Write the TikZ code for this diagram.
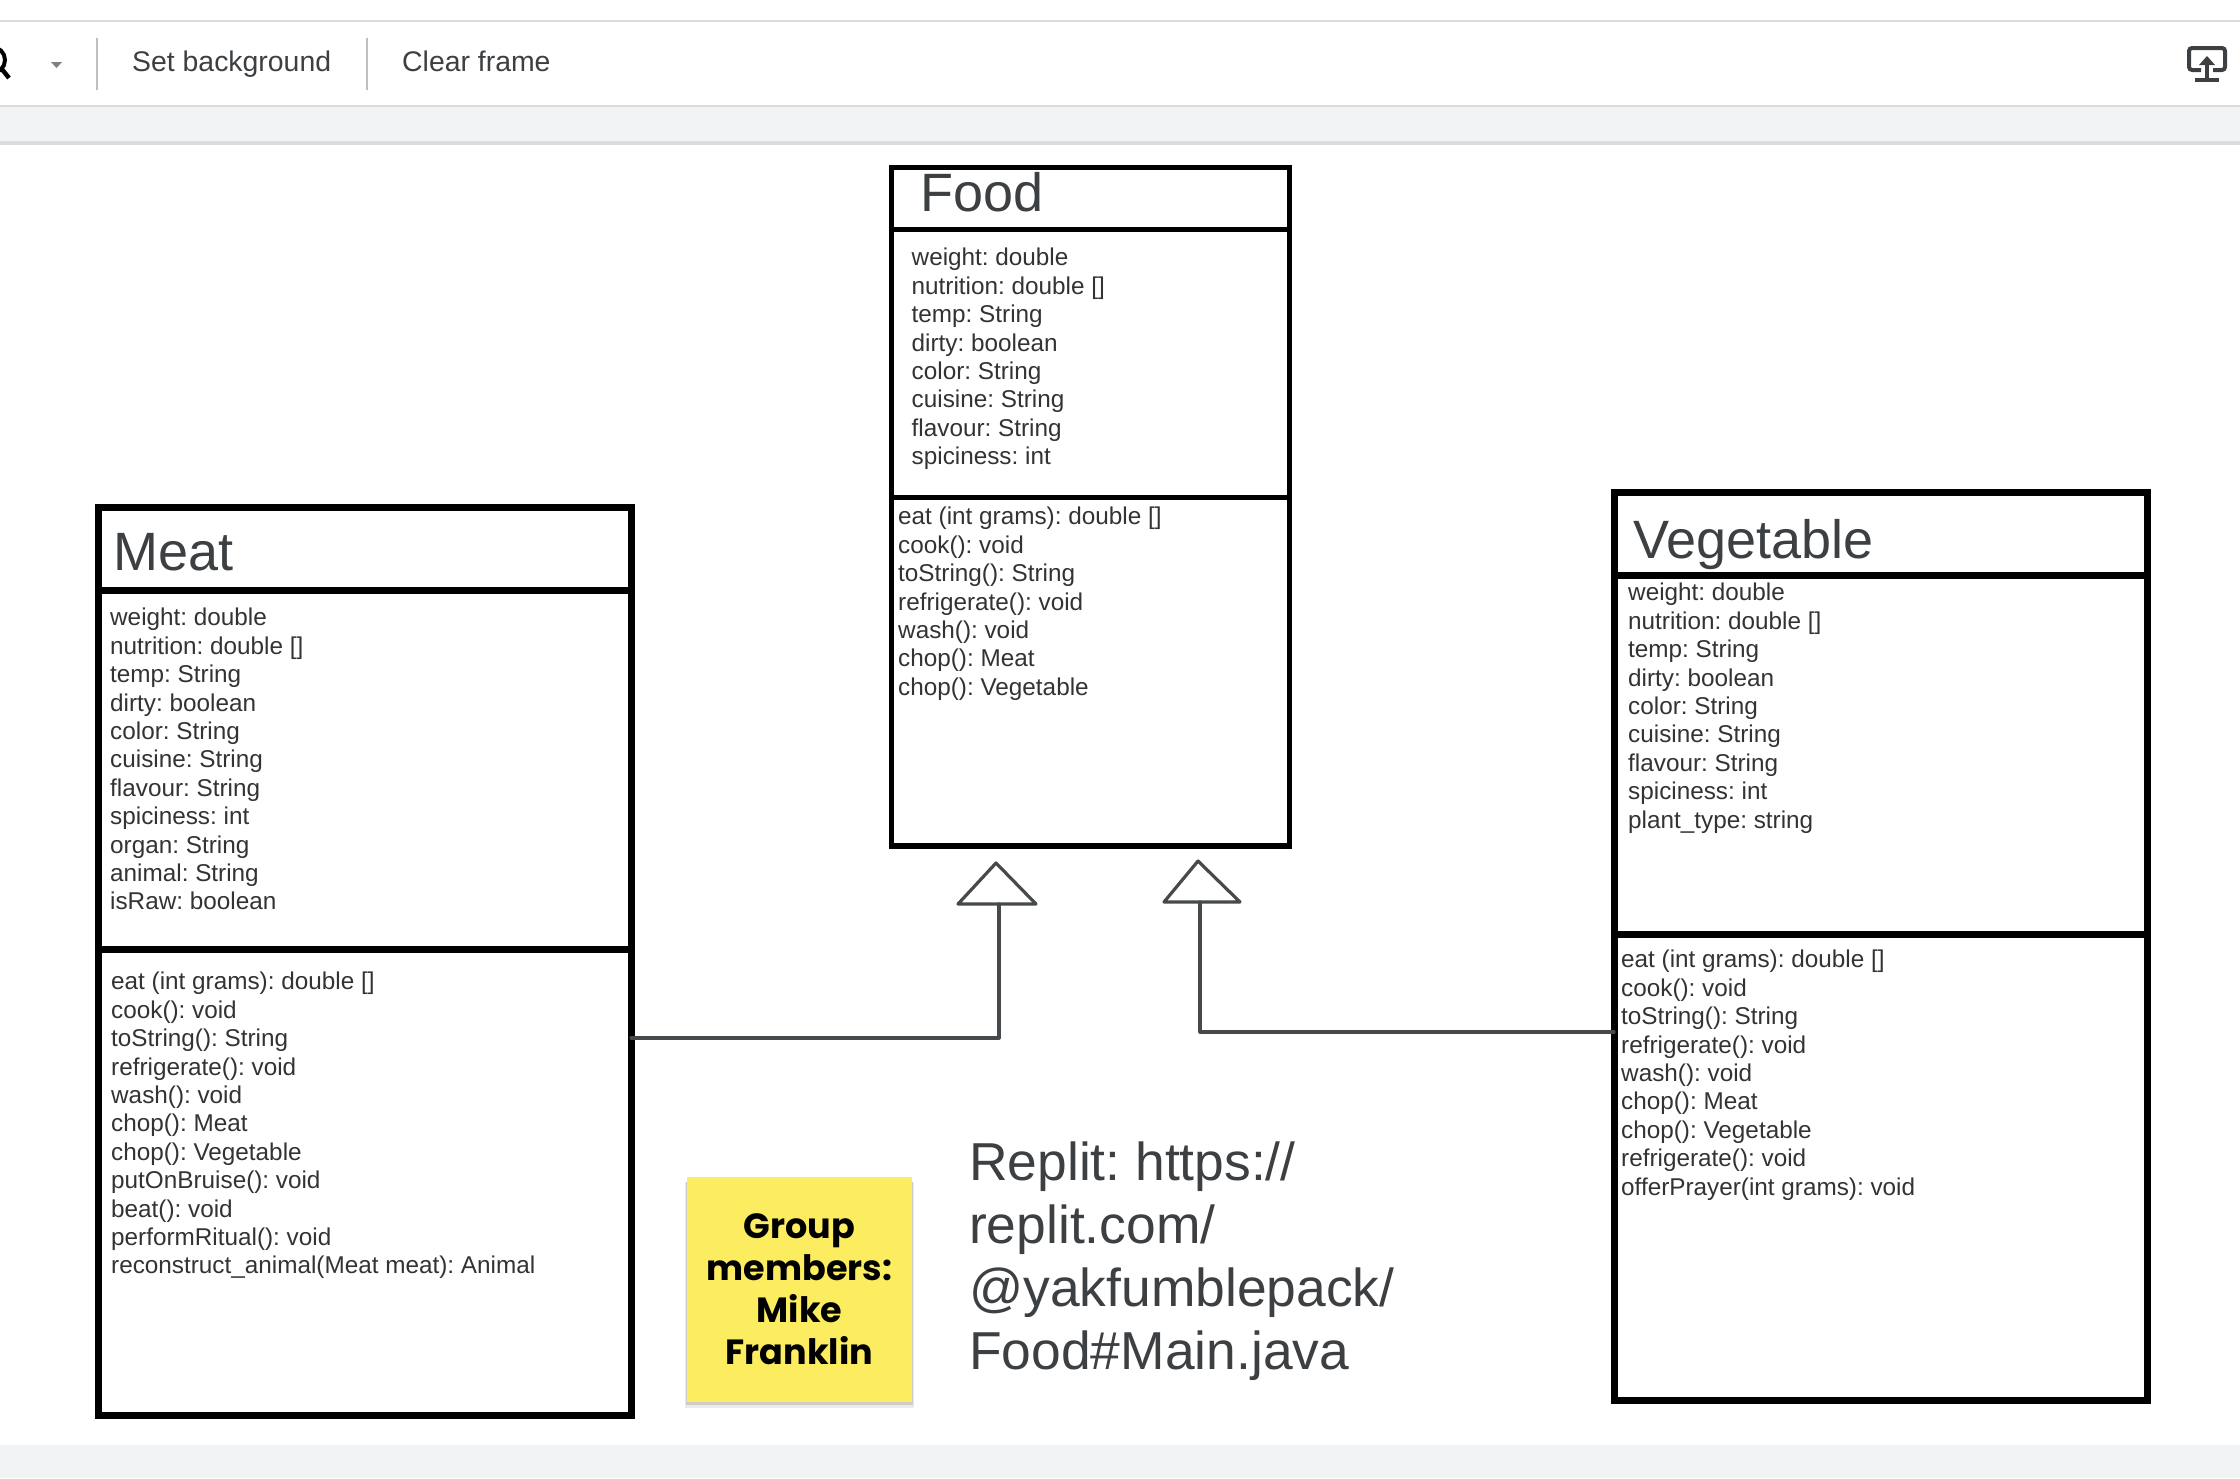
\documentclass[tikz,border=0pt]{standalone}
\usepackage{fontspec}
\setmainfont{Liberation Sans}
\newfontfamily\notefont{Poppins}
\definecolor{inkgray}{HTML}{3C4043}
\definecolor{bandgray}{HTML}{F1F3F4}
\definecolor{rulegray}{HTML}{DADCE0}
\definecolor{notefill}{HTML}{FCEC60}
\tikzset{
  classbox/.style={draw=black,line width=7pt,anchor=north west,inner sep=0pt,outer sep=0pt},
  foodbox/.style={classbox,line width=5.5pt},
  classtitle/.style={anchor=west,inner sep=0pt,text=inkgray,font=\fontsize{54}{54}\selectfont},
  members/.style={anchor=north west,inner sep=0pt,align=left,text=black!80,font=\frenchspacing\fontsize{24.3}{28.4}\selectfont},
  toolbartext/.style={anchor=base west,inner sep=0pt,text=inkgray,font=\fontsize{28.4}{28.4}\selectfont},
  connector/.style={draw=inkgray!95,line width=3.2pt,line cap=round,line join=round},
}
\begin{document}
\begin{tikzpicture}[x=1pt,y=-1pt]
	\useasboundingbox (0,0) rectangle (2240,1478);
	\fill[white] (0,0) rectangle (2240,1478);
	\fill[bandgray] (0,107) rectangle (2240,141);
	\fill[bandgray] (0,1445) rectangle (2240,1478);
	\fill[rulegray] (0,141) rectangle (2240,145);
	\draw[rulegray,line width=2pt] (0,21) -- (2240,21);
	\draw[rulegray,line width=2pt] (0,106) -- (2240,106);
	\draw[black!25,line width=2pt] (97,38) -- (97,90);
	\draw[black!25,line width=2pt] (367,38) -- (367,90);
	\draw[black,line width=4pt] (-8,60) circle (13);
	\draw[black,line width=4.5pt] (1,68) -- (9,78);
	\fill[black!50] (51,62) -- (62,62) -- (56.5,68) -- cycle;
	\node[toolbartext] (setbackground) at (132,71) {Set background};
	\node[toolbartext] (clearframe) at (402,71) {Clear frame};
	\draw[inkgray,line width=4pt,rounded corners=3pt] (2201,70) -- (2189,70) -- (2189,48) -- (2225,48) -- (2225,70) -- (2213,70);
	\fill[inkgray] (2207,56) -- (2215,65) -- (2199,65) -- cycle;
	\draw[inkgray,line width=4pt] (2207,63) -- (2207,79);
	\draw[inkgray,line width=4pt] (2195,80) -- (2219,80);
	\node[foodbox,minimum width=398pt,minimum height=62pt] (foodhead) at (891.5,167.5) {};
	\node[foodbox,minimum width=398pt,minimum height=268pt] (foodattr) at (891.5,229.5) {};
	\node[foodbox,minimum width=398pt,minimum height=348.5pt] (foodmeth) at (891.5,497.5) {};
	\node[classtitle] (foodtitle) at (920,192) {Food};
	\node[members] (foodattrtext) at (911.5,248) {weight: double\\nutrition: double []\\temp: String\\dirty: boolean\\color: String\\cuisine: String\\flavour: String\\spiciness: int};
	\node[members] (foodmethtext) at (898,507) {eat (int grams): double []\\cook(): void\\toString(): String\\refrigerate(): void\\wash(): void\\chop(): Meat\\chop(): Vegetable};
	\node[classbox,minimum width=533pt,minimum height=83pt] (meathead) at (98,507) {};
	\node[classbox,minimum width=533pt,minimum height=359pt] (meatattr) at (98,590) {};
	\node[classbox,minimum width=533pt,minimum height=466pt] (meatmeth) at (98,949) {};
	\node[classtitle] (meattitle) at (113,552) {Meat};
	\node[members] (meatattrtext) at (110,608) {weight: double\\nutrition: double []\\temp: String\\dirty: boolean\\color: String\\cuisine: String\\flavour: String\\spiciness: int\\organ: String\\animal: String\\isRaw: boolean};
	\node[members] (meatmethtext) at (111,972) {eat (int grams): double []\\cook(): void\\toString(): String\\refrigerate(): void\\wash(): void\\chop(): Meat\\chop(): Vegetable\\putOnBruise(): void\\beat(): void\\performRitual(): void\\reconstruct\_animal(Meat meat): Animal};
	\node[classbox,minimum width=533pt,minimum height=82.5pt] (veghead) at (1614,492.5) {};
	\node[classbox,minimum width=533pt,minimum height=359pt] (vegattr) at (1614,575) {};
	\node[classbox,minimum width=533pt,minimum height=466pt] (vegmeth) at (1614,934) {};
	\node[classtitle] (vegtitle) at (1633,545) {Vegetable};
	\node[members] (vegattrtext) at (1628,583) {weight: double\\nutrition: double []\\temp: String\\dirty: boolean\\color: String\\cuisine: String\\flavour: String\\spiciness: int\\plant\_type: string};
	\node[members] (vegmethtext) at (1621,950) {eat (int grams): double []\\cook(): void\\toString(): String\\refrigerate(): void\\wash(): void\\chop(): Meat\\chop(): Vegetable\\refrigerate(): void\\offerPrayer(int grams): void};
	\coordinate (meatapex) at (996,863);
	\coordinate (meatleft) at (958,904);
	\coordinate (meatright) at (1036,904);
	\coordinate (meatbase) at (999,904);
	\coordinate (meatelbow) at (999,1038);
	\coordinate (vegapex) at (1198,861);
	\coordinate (vegleft) at (1164,902);
	\coordinate (vegright) at (1240,902);
	\coordinate (vegbase) at (1200,902);
	\coordinate (vegelbow) at (1200,1032);
	\draw[connector] (meatapex) -- (meatright) -- (meatleft) -- cycle;
	\draw[connector] (vegapex) -- (vegright) -- (vegleft) -- cycle;
	\draw[connector] (meatbase) -- (meatelbow) -- (meatmeth.east |- meatelbow);
	\draw[connector] (vegbase) -- (vegelbow) -- (vegmeth.west |- vegelbow);
	\fill[black!8] (685,1182) rectangle (914,1408);
	\fill[black!20] (686,1182) rectangle (913,1405);
	\node[fill=notefill,minimum width=225pt,minimum height=225pt,inner sep=0pt,align=center,font=\notefont\bfseries\fontsize{35}{42}\selectfont] (groupnote) at (799.5,1289.5) {\raisebox{-2pt}{Group}\\\raisebox{-2pt}{members:}\\\raisebox{-2pt}{Mike}\\\raisebox{-2pt}{Franklin}};
	\node[anchor=north west,inner sep=0pt,align=left,text=inkgray,font=\frenchspacing\fontsize{53.4}{63}\selectfont] (replitlink) at (969,1142) {Replit: https://\\replit.com/\\@yakfumblepack/\\Food\#Main.java};
\end{tikzpicture}
\end{document}
